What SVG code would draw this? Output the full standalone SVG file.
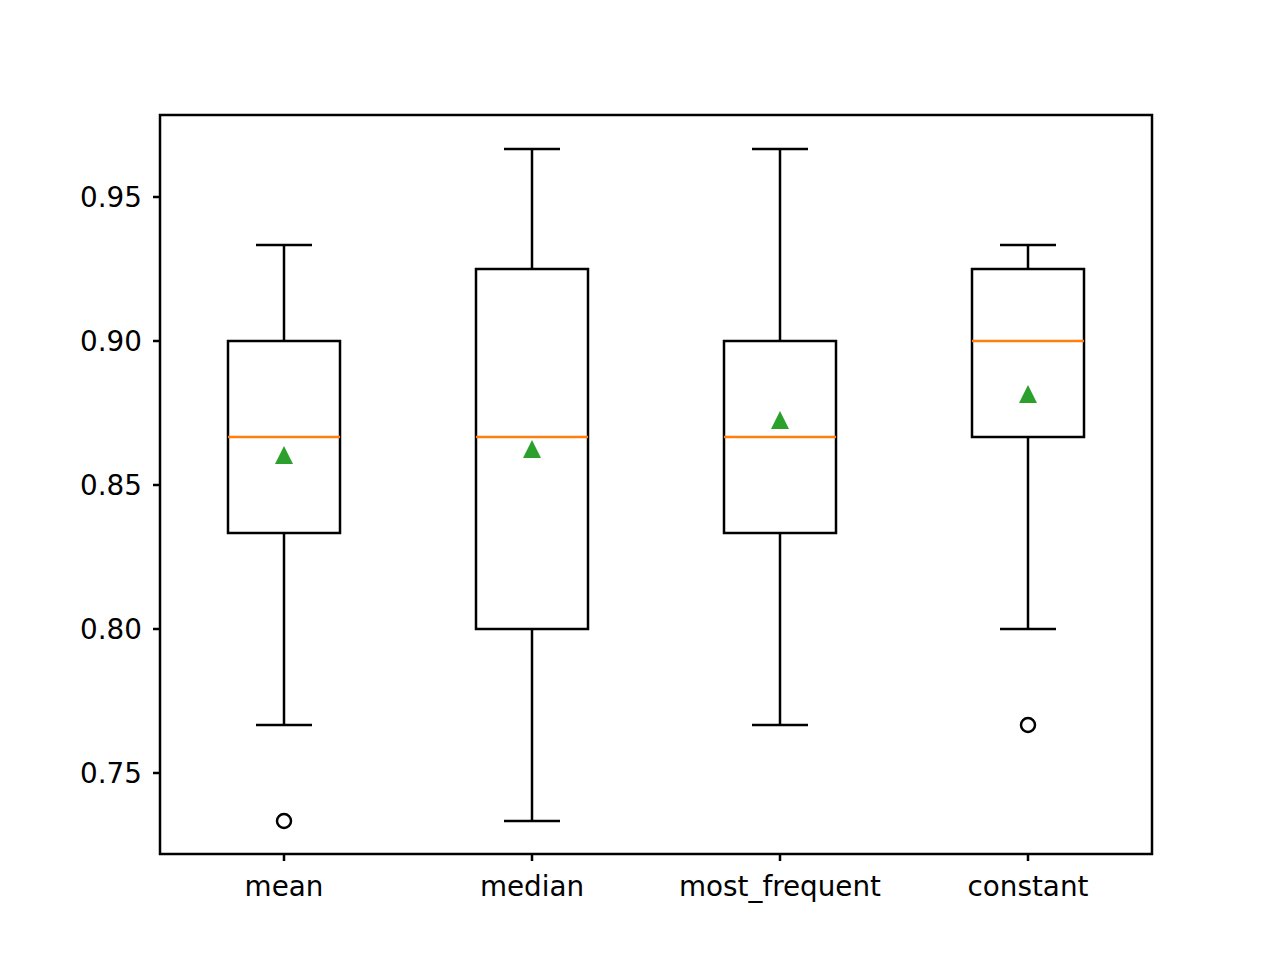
<svg xmlns="http://www.w3.org/2000/svg" width="1280" height="960" viewBox="0 0 1280 960">
<style>
.b{fill:none;stroke:#000;stroke-width:2.5}
.m{stroke:#ff7f0e;stroke-width:2.5}
.t{font-family:"DejaVu Sans",sans-serif;font-size:27.8px;fill:#000}
.tri{fill:#2ca02c}
</style>
<rect width="1280" height="960" fill="#fff"/>
<g id="axes">
<rect x="160" y="115" width="992" height="739" class="b" stroke-width="1.8"/>
<g class="b">
<path d="M160 197h-7M160 341h-7M160 485h-7M160 629h-7M160 773h-7M284 854v7M532 854v7M780 854v7M1028 854v7"/>
</g>
<g class="t" text-anchor="end">
<text x="142" y="207">0.95</text><text x="142" y="351">0.90</text><text x="142" y="495">0.85</text><text x="142" y="639">0.80</text><text x="142" y="783">0.75</text>
</g>
<g class="t" text-anchor="middle">
<text x="284" y="896">mean</text><text x="532" y="896">median</text><text x="780" y="896">most_frequent</text><text x="1028" y="896">constant</text>
</g>
</g>
<g id="connectors"></g>
<g id="box-mean">
<path class="b" d="M228 341h112v192h-112zM284 341v-96M256 245h56M284 533v192M256 725h56"/>
<path class="m" d="M228 437h112"/>
<polygon class="tri" points="284,446 275,464 293,464"/>
<circle cx="284" cy="821" r="7" class="b"/>
</g>
<g id="box-median">
<path class="b" d="M476 269h112v360h-112zM532 269v-120M504 149h56M532 629v192M504 821h56"/>
<path class="m" d="M476 437h112"/>
<polygon class="tri" points="532,440 523,458 541,458"/>
</g>
<g id="box-most_frequent">
<path class="b" d="M724 341h112v192h-112zM780 341v-192M752 149h56M780 533v192M752 725h56"/>
<path class="m" d="M724 437h112"/>
<polygon class="tri" points="780,411 771,429 789,429"/>
</g>
<g id="box-constant">
<path class="b" d="M972 269h112v168h-112zM1028 269v-24M1000 245h56M1028 437v192M1000 629h56"/>
<path class="m" d="M972 341h112"/>
<polygon class="tri" points="1028,385 1019,403 1037,403"/>
<circle cx="1028" cy="725" r="7" class="b"/>
</g>
</svg>
